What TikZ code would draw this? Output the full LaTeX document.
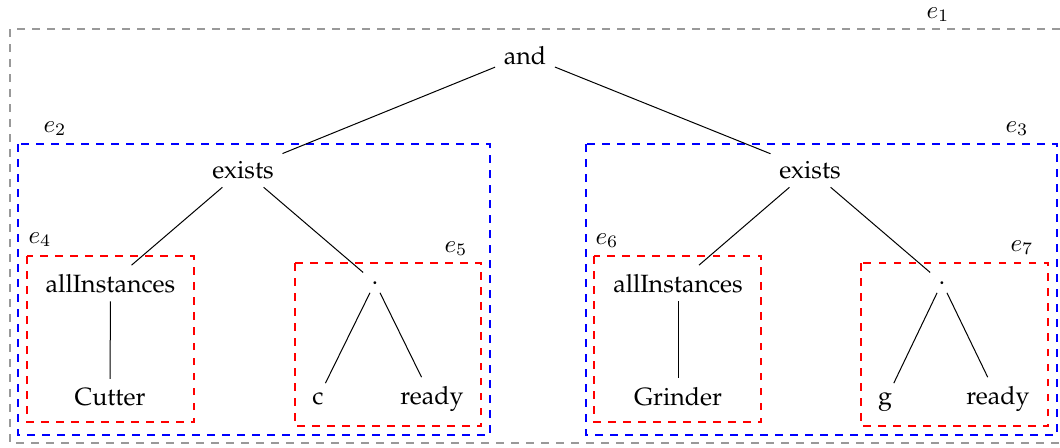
\documentclass[tikz,border=0pt]{standalone}
\usepackage[T1]{fontenc}
\usepackage{palatino}
\begin{document}
\begin{tikzpicture}[x=0.4pt,y=-0.4pt,
  tn/.style={inner sep=3.3pt, anchor=base},
  lbl/.style={inner sep=0pt, anchor=base},
  grp/.style={dashed, line width=0.5pt},
  edge/.style={black, line width=0.4pt}]
\useasboundingbox (0,0) rectangle (1060,447);
% group boxes
\draw[grp, gray!80] (10,29) rectangle (1066,443);
\draw[grp, blue] (18,144) rectangle (490,435);
\draw[grp, blue] (586,144) rectangle (1057,435);
\draw[grp, red] (27,256) rectangle (194,422);
\draw[grp, red] (295,263) rectangle (481,426);
\draw[grp, red] (594,256) rectangle (761,422);
\draw[grp, red] (861,263) rectangle (1048,426);
% labels
\node[lbl] (l1) at (938,18) {$e_1$};
\node[lbl] (l2) at (55,132) {$e_2$};
\node[lbl] (l3) at (1017,132) {$e_3$};
\node[lbl] (l4) at (40,243) {$e_4$};
\node[lbl] (l5) at (456,252) {$e_5$};
\node[lbl] (l6) at (607,244) {$e_6$};
\node[lbl] (l7) at (1022,251) {$e_7$};
% tree nodes
\node[tn] (and) at (525,64) {and};
\node[tn] (ex1) at (243,178) {exists};
\node[tn] (ex2) at (810,178) {exists};
\node[tn] (ai1) at (110.5,292) {allInstances};
\node[tn] (cut) at (110,405) {Cutter};
\node[tn] (d1) at (375,284) {.};
\node[tn] (c) at (318,404) {c};
\node[tn] (r1) at (432,404) {ready};
\node[tn] (ai2) at (678,292) {allInstances};
\node[tn] (gri) at (678,405) {Grinder};
\node[tn] (d2) at (942,284) {.};
\node[tn] (g) at (885,404) {g};
\node[tn] (r2) at (998,404) {ready};
% edges
\draw[edge] (and) -- (ex1);
\draw[edge] (and) -- (ex2);
\draw[edge] (ex1) -- (ai1);
\draw[edge] (ex1) -- (d1);
\draw[edge] (ai1) -- (cut);
\draw[edge] (d1) -- (c);
\draw[edge] (d1) -- (r1);
\draw[edge] (ex2) -- (ai2);
\draw[edge] (ex2) -- (d2);
\draw[edge] (ai2) -- (gri);
\draw[edge] (d2) -- (g);
\draw[edge] (d2) -- (r2);
\end{tikzpicture}
\end{document}
